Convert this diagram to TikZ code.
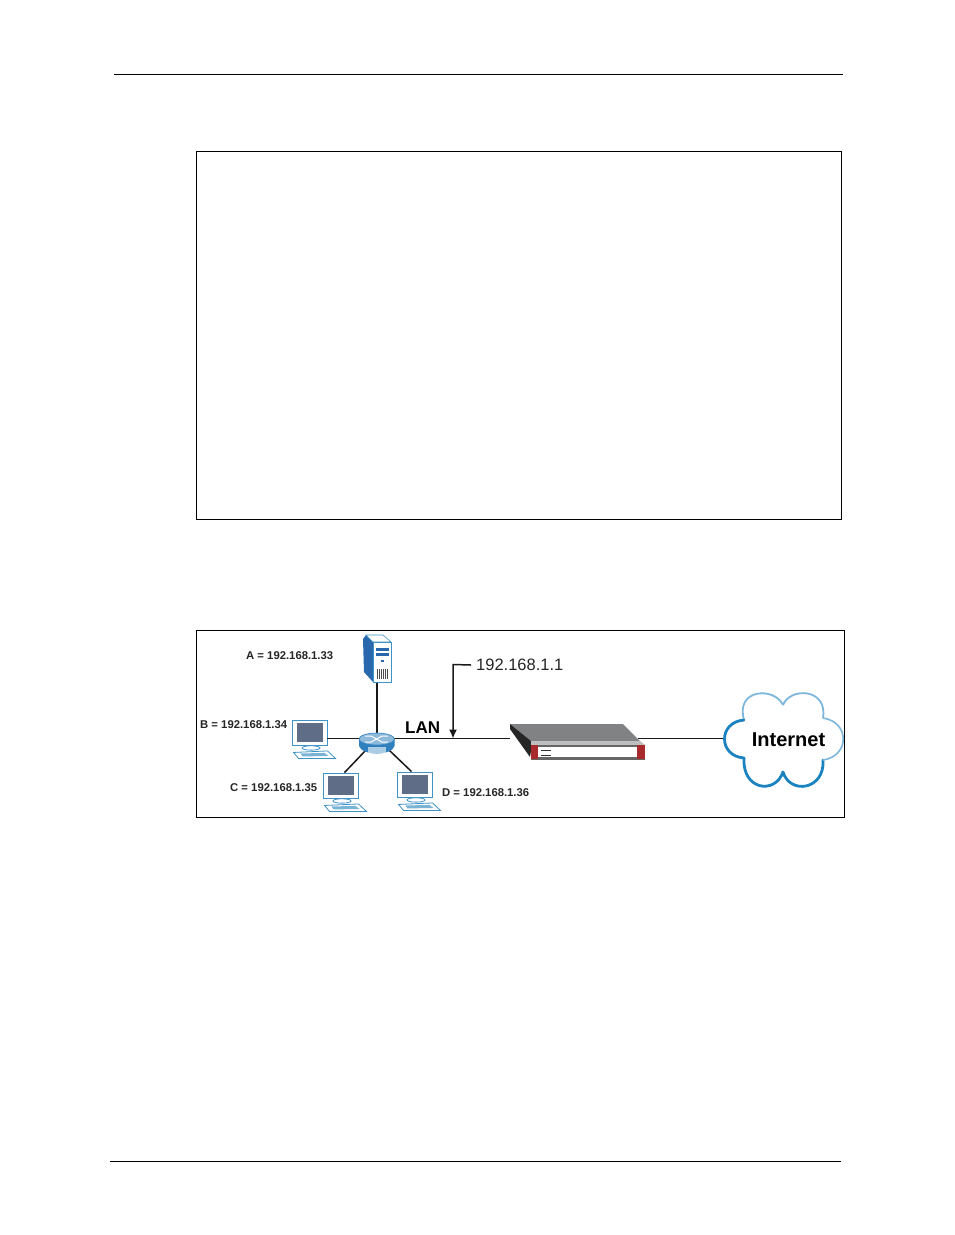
\documentclass[tikz,border=0pt]{standalone}
\usepackage{fontspec}
\setmainfont{Liberation Sans}
\usetikzlibrary{shapes.geometric,arrows.meta}
\definecolor{screen}{HTML}{5F6E86}
\definecolor{pcblue}{HTML}{3F93C6}
\definecolor{srvblue}{HTML}{2A68AE}
\definecolor{cloudlight}{HTML}{7DB8DC}
\definecolor{clouddark}{HTML}{1B83C0}
\definecolor{devgray}{HTML}{808284}
\definecolor{devred}{HTML}{A92A2C}
\definecolor{routerblue}{HTML}{2F80BE}
\tikzset{
  frame/.style={draw=black,line width=0.8pt},
  rulel/.style={draw=black,line width=0.8pt},
  link/.style={draw=black!90,line width=1.5pt},
  monitor/.style={draw=pcblue,fill=white,line width=0.9pt,rectangle,minimum width=35pt,minimum height=25pt,inner sep=0pt},
  addr/.style={font=\bfseries\fontsize{11.3}{13}\selectfont,inner sep=0pt,text=black!85},
  pcpart/.style={draw=pcblue,fill=white,line width=0.8pt}
}
\newcommand{\pcdetail}[1]{%
  \fill[screen] ([shift={(5,3)}]#1.north west) rectangle ([shift={(-4,-3)}]#1.south east);
  \draw[pcpart] ([shift={(1.5,2.5)}]#1.south) ellipse (9pt and 2.2pt);
  \draw[pcpart] ([shift={(-16,7)}]#1.south) -- ([shift={(18,5.5)}]#1.south) -- ([shift={(26,13)}]#1.south) -- ([shift={(-11,13)}]#1.south) -- cycle;
  \fill[pcblue!70] ([shift={(-9,8)}]#1.south) -- ([shift={(15,7.5)}]#1.south) -- ([shift={(19,10.5)}]#1.south) -- ([shift={(-7,11)}]#1.south) -- cycle;
}
\begin{document}
\begin{tikzpicture}[x=1pt,y=-1pt]
\useasboundingbox (0,0) rectangle (954,1235);
\fill[white] (0,0) rectangle (954,1235);
% page rules and frames
\coordinate (ruleA) at (114,74.5); \coordinate (ruleB) at (843,74.5);
\coordinate (ruleC) at (110,1161.5); \coordinate (ruleD) at (841,1161.5);
\draw[rulel] (ruleA) -- (ruleB);
\draw[rulel] (ruleC) -- (ruleD);
\node[frame,rectangle,minimum width=645pt,minimum height=367.5pt,inner sep=0pt] (box1) at (518.5,335.5) {};
\node[frame,rectangle,minimum width=648pt,minimum height=186.5pt,inner sep=0pt] (box2) at (520.5,724) {};
% anchor nodes
\node[ellipse,minimum width=36pt,minimum height=14pt,inner sep=0pt] (router) at (377,738.5) {};
\node[monitor] (pcB) at (309.5,732.5) {};
\node[monitor] (pcC) at (340.5,785.5) {};
\node[monitor] (pcD) at (414.5,784.5) {};
\node[rectangle,minimum width=18pt,minimum height=40pt,inner sep=0pt] (server) at (382,662) {};
\node[rectangle,minimum width=114pt,minimum height=14pt,inner sep=0pt] (device) at (588,752) {};
\coordinate (devL) at (510,738.5);
\coordinate (devR) at (638,738.5);
\coordinate (cloudL) at (724,738.5);
\coordinate (lanR) at (453,738.5);
\coordinate (ipC) at (453,664.5);
\node[font=\fontsize{16.5}{18}\selectfont,inner sep=0pt,anchor=west,text=black!85] (ip) at (476,665) {192.168.1.1};
\node[font=\bfseries\fontsize{17}{19}\selectfont,inner sep=0pt,anchor=west] (lan) at (405,728) {LAN};
\node[addr,anchor=west] (la) at (246,656) {A = 192.168.1.33};
\node[addr,anchor=west] (lb) at (200,725) {B = 192.168.1.34};
\node[addr,anchor=west] (lc) at (230,788) {C = 192.168.1.35};
\node[addr,anchor=west] (ld) at (442,792.5) {D = 192.168.1.36};
% connectors
\draw[link] (pcB.east |- router.center) -- (router.center);
\draw[link] (router.center) -- (devL);
\draw[link] (devR) -- (cloudL);
\draw[link] (router.center |- server.south) -- (router.center);
\draw[link] (router.center) -- ([xshift=4pt]pcC.north);
\draw[link] (router.center) -- ([xshift=-3pt]pcD.north);
\draw[line width=1.5pt,draw=black!90,-{Latex[length=9pt,width=8pt]}] ([xshift=-5pt]ip.west) -- (ipC) -- (lanR);
% server
\fill[srvblue] (363,639) -- (366,635) -- (373,642) -- (373,682) -- (364,672) -- cycle;
\fill[white,draw=pcblue,line width=0.6pt] (366,635) -- (383,635) -- (391,642) -- (373,642) -- cycle;
\fill[white,draw=pcblue,line width=0.7pt] (373,642) rectangle (391,682);
\fill[srvblue] (376,648) rectangle (389,651);
\fill[srvblue] (376,653) rectangle (389,656);
\fill[srvblue] (381,660) rectangle (384,662);
\foreach \i in {0,...,5} { \fill[black!70] (377+2*\i,669) rectangle (378+2*\i,679); }
% computers
\pcdetail{pcB}
\pcdetail{pcC}
\pcdetail{pcD}
% router
\fill[routerblue] (359,739) -- (359,746) .. controls (362,756) and (392,756) .. (394.5,746) -- (394.5,739) -- cycle;
\fill[white,opacity=0.6] (368,747) -- (386,747) -- (386,752.5) -- (368,752.5) -- cycle;
\draw[routerblue,fill=routerblue!55!white,line width=0.6pt] (376.7,739) ellipse (17.7pt and 6pt);
\draw[white,line width=1pt] (365,736) -- (371,736) -- (382,742) -- (388,742);
\draw[white,line width=1pt] (365,742) -- (371,742) -- (382,736) -- (388,736);
% device
\fill[devgray] (510,724) -- (623,724) -- (640,741) -- (531,741) -- cycle;
\fill[black!85] (510,724) -- (510,729) -- (530,757) -- (532,745) -- (531,741) -- cycle;
\fill[black!25] (531,741) -- (640,741) -- (645,745) -- (531,745) -- cycle;
\fill[black!60] (531,745) rectangle (645,759.5);
\fill[devred] (531,745) rectangle (538,759);
\fill[devred] (637,745) rectangle (645,759);
\fill[white] (538,747) rectangle (637,757);
\draw[black!80,line width=0.9pt] (541,750) -- (551,750);
\draw[black!80,line width=0.9pt] (541,755) -- (551,755);
% cloud
\coordinate (cA) at (783,705);
\coordinate (cB) at (744,720);
\coordinate (cC) at (744,758);
\coordinate (cD) at (783,772);
\coordinate (cE) at (823,760);
\coordinate (cF) at (823,718);
\fill[white] (cA) .. controls (775,687) and (735,688) .. (cB)
  .. controls (718,722) and (718,756) .. (cC)
  .. controls (742,790) and (775,795) .. (cD)
  .. controls (790,795) and (825,790) .. (cE)
  .. controls (850,756) and (850,722) .. (cF)
  .. controls (828,688) and (790,687) .. (cA) -- cycle;
\draw[cloudlight,line width=1.8pt] (cA) .. controls (775,687) and (735,688) .. (cB);
\draw[clouddark,line width=2.8pt,line cap=round] (cB) .. controls (718,722) and (718,756) .. (cC);
\draw[clouddark,line width=2.8pt,line cap=round] (cC) .. controls (742,790) and (775,795) .. (cD);
\draw[clouddark,line width=2.8pt,line cap=round] (cD) .. controls (790,795) and (825,790) .. (cE);
\draw[cloudlight,line width=1.6pt] (cE) .. controls (850,756) and (850,722) .. (cF);
\draw[cloudlight,line width=1.8pt] (cF) .. controls (828,688) and (790,687) .. (cA);
\node[font=\bfseries\fontsize{20}{22}\selectfont,inner sep=0pt] (inet) at (788.5,740) {Internet};
\end{tikzpicture}
\end{document}
